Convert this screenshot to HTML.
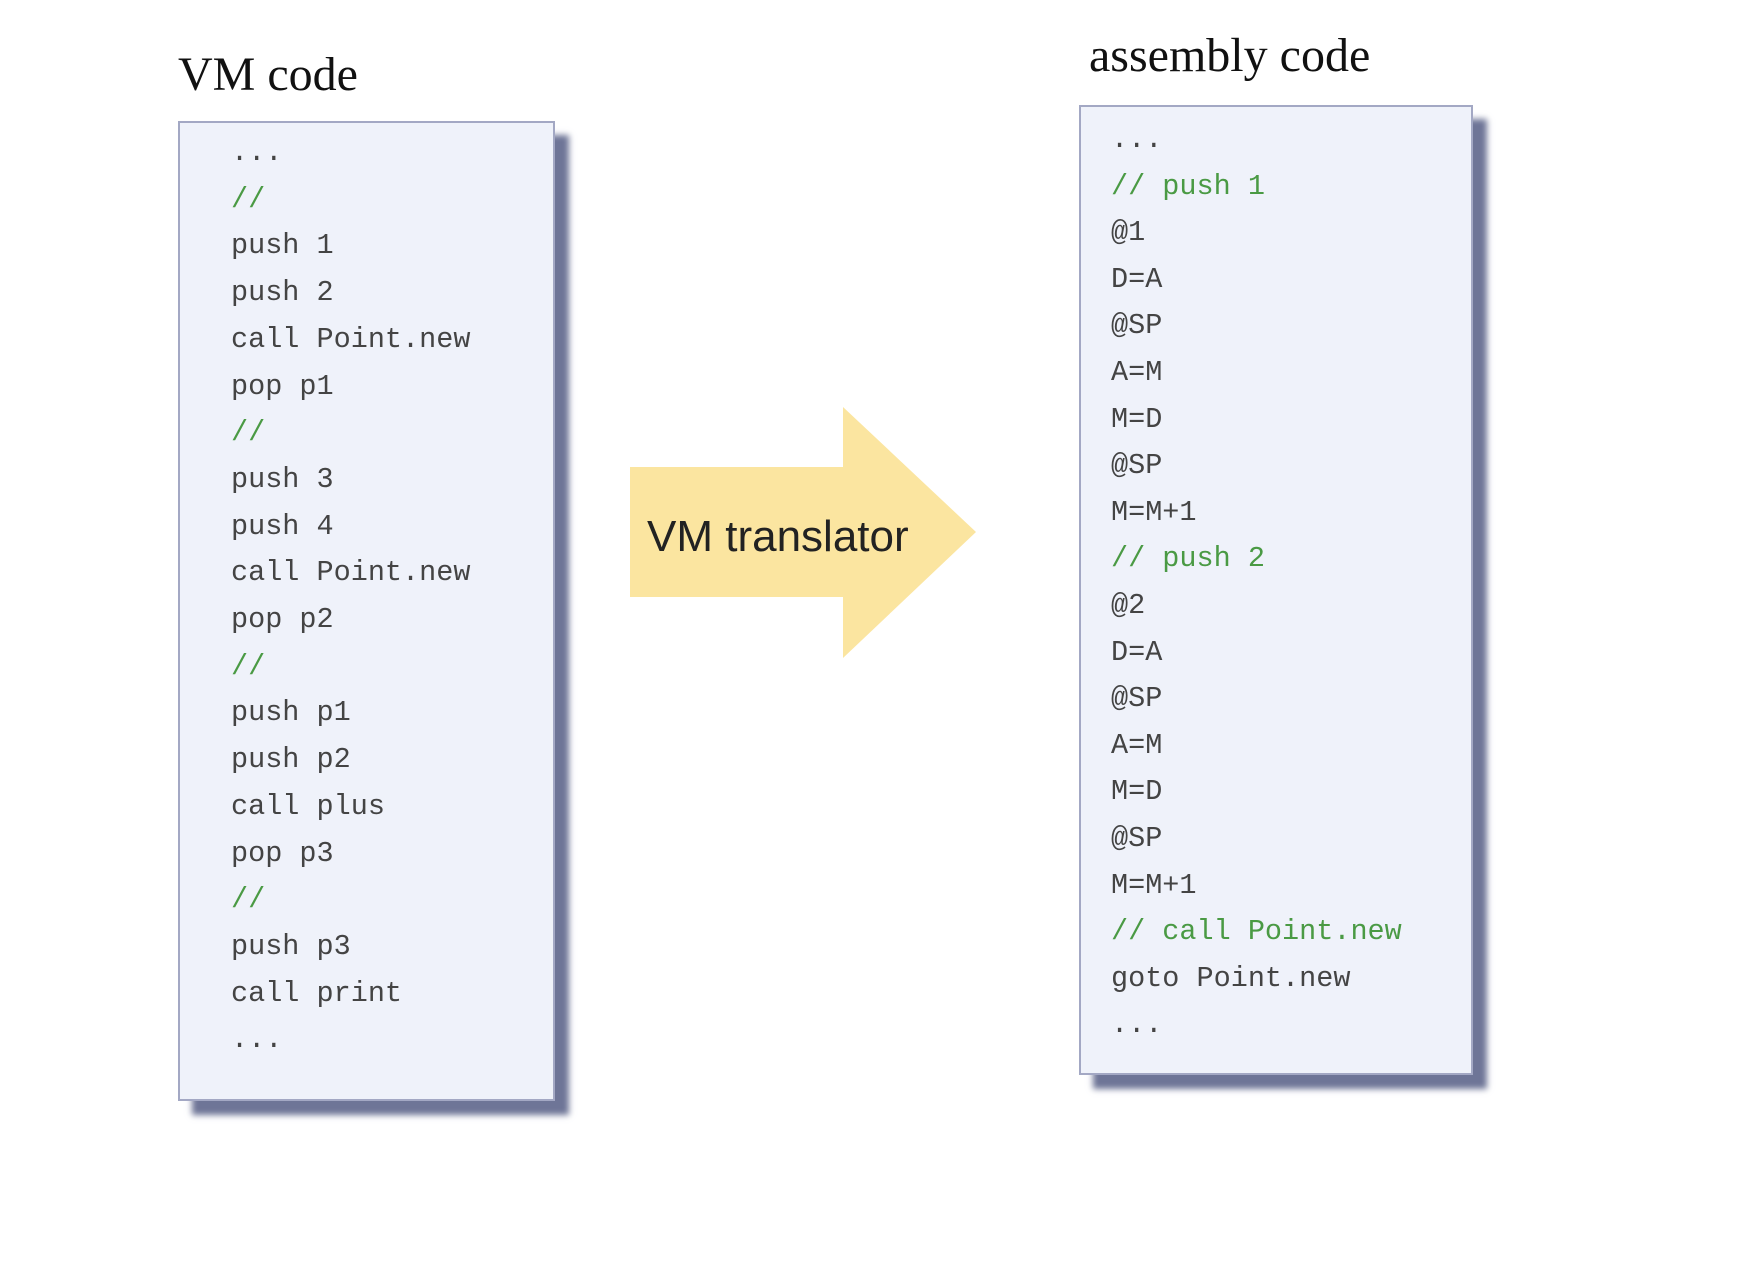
<!DOCTYPE html>
<html><head><style>
body{margin:0;width:1764px;height:1286px;background:#fff;position:relative;overflow:hidden}
.t{position:absolute;font-family:"Liberation Serif",serif;font-size:48px;color:#111;white-space:nowrap}
.box{position:absolute;background:#eff2fa;border:2px solid #a3a8c4;box-shadow:14px 14px 6px #6e7597}
.code{position:absolute;font-family:"Liberation Mono",monospace;font-size:28.5px;color:#444;white-space:pre;line-height:46.7px}
.g{color:#4a9a44}
</style></head><body>
<div class="t" style="left:178px;top:47px">VM code</div>
<div class="t" style="left:1089px;top:28px">assembly code</div>
<div class="box" style="left:178px;top:121px;width:373px;height:976px"></div>
<div class="box" style="left:1079px;top:105px;width:390px;height:966px"></div>
<div class="code" style="left:231px;top:130px">...
<span class="g">//</span>
push 1
push 2
call Point.new
pop p1
<span class="g">//</span>
push 3
push 4
call Point.new
pop p2
<span class="g">//</span>
push p1
push p2
call plus
pop p3
<span class="g">//</span>
push p3
call print
...</div>
<div class="code" style="left:1111px;top:117px;line-height:46.6px">...
<span class="g">// push 1</span>
@1
D=A
@SP
A=M
M=D
@SP
M=M+1
<span class="g">// push 2</span>
@2
D=A
@SP
A=M
M=D
@SP
M=M+1
<span class="g">// call Point.new</span>
goto Point.new
...</div>
<svg style="position:absolute;left:0;top:0" width="1764" height="1286">
<polygon points="630,467 843,467 843,407 976,532 843,658 843,597 630,597" fill="#fbe5a0"/>
<text x="647" y="551" font-family="Liberation Sans, sans-serif" font-size="44" fill="#222">VM translator</text>
</svg>
</body></html>
